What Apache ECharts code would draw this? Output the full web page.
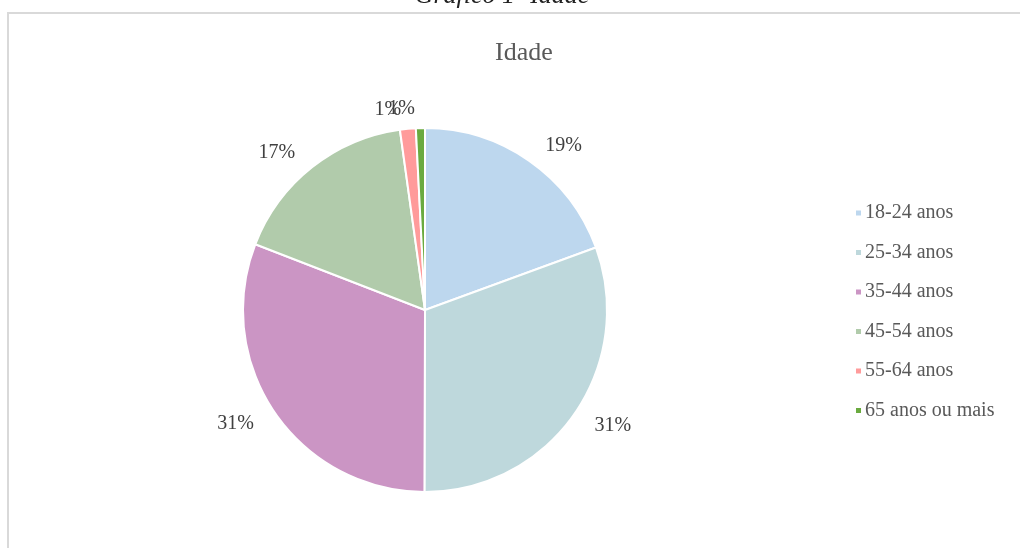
<!DOCTYPE html>
<html><head><meta charset="utf-8">
<script src="https://cdn.jsdelivr.net/npm/echarts@6/dist/echarts.min.js"></script>
<style>html,body{margin:0;padding:0;background:#fff}#c{width:1020px;height:548px}</style>
</head><body><div id="c"></div>
<script>
const categories = ['18-24 anos','25-34 anos','35-44 anos','45-54 anos','55-64 anos','65 anos ou mais'];
const values = [19.4, 30.6, 30.8, 16.9, 1.4, 0.8];
const colors = ['#bdd7ee','#bed8dc','#cb95c4','#b1cbab','#ff9b9b','#6aaa3f'];
const chart = echarts.init(document.getElementById('c'));
const serif = '"Liberation Serif","DejaVu Serif",serif';
chart.setOption({
  animation:false,
  graphic:[
    {type:'polyline',shape:{points:[[8,548],[8,13],[1020,13]]},style:{stroke:'#d9d9d9',lineWidth:2,fill:null}},
    {type:'text',x:502,y:-17,style:{text:'Gráfico 1- Idade',font:'italic 26px '+serif,fill:'#222',textAlign:'center'}}
  ],
  title:{text:'Idade',left:490,top:35,textStyle:{fontFamily:serif,fontWeight:'normal',fontSize:26,color:'#595959'}},
  legend:{orient:'vertical',left:849,top:198,itemWidth:7,itemHeight:7,itemGap:19.5,icon:'rect',
    textStyle:{fontFamily:serif,fontSize:20,lineHeight:20,color:'#595959',padding:[0,0,0,-2]},data:categories},
  series:[{type:'pie',center:[425,310],radius:182,startAngle:90,clockwise:true,avoidLabelOverlap:false,
    itemStyle:{borderColor:'#fff',borderWidth:2},
    label:{show:true,position:'outside',fontFamily:serif,fontSize:20,color:'#404040',
      formatter:p=>Math.round(p.percent)+'%'},
    labelLine:{show:false,length:19,length2:0},
    labelLayout:{hideOverlap:false},
    data:categories.map((n,i)=>({name:n,value:values[i],itemStyle:{color:colors[i]}}))
  }]
});
</script></body></html>
